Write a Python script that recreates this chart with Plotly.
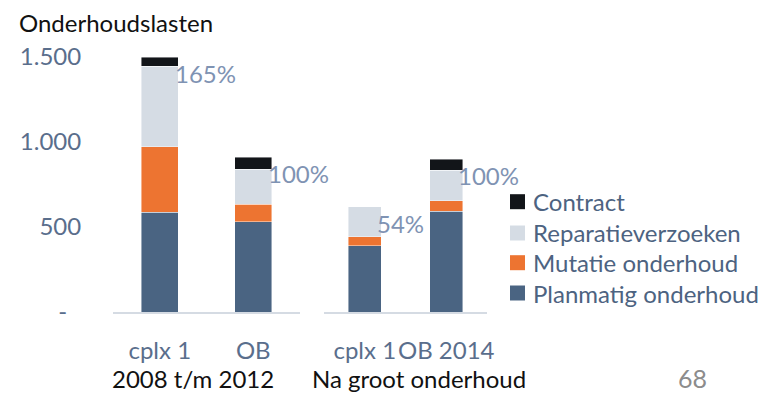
import plotly.graph_objects as go

# Maintenance costs per complex, stacked by cost type
periods = ["2008 t/m 2012", "Na groot onderhoud"]
categories_2008 = ["cplx 1", "OB"]
categories_2014 = ["cplx 1", "OB 2014"]

planmatig = [586, 531, 390, 594]
mutatie = [386, 102, 53, 61]
reparatie = [475, 208, 176, 180]
contract = [51, 69, 0, 65]

pct_labels = ["165%", "100%", "54%", "100%"]

series = [
    ("Planmatig onderhoud", planmatig, "#4A6482"),
    ("Mutatie onderhoud", mutatie, "#ED7431"),
    ("Reparatieverzoeken", reparatie, "#D5DCE4"),
    ("Contract", contract, "#121519"),
]

y_tickvals = [0, 500, 1000, 1500]
y_ticktext = ["-\u2007", "500", "1.000", "1.500"]

FONT = "Lato"
FS = 24
SLATE = "#5A6E8C"
PCT = "#7F93B3"
LEGEND_TEXT = "#4D6381"

W, H = 769, 393
ML, MR, MT, MB = 113, 282, 48, 81
PW, PH = W - ML - MR, H - MT - MB


def px(x):
    """Figure pixel x -> paper coordinate (plot-area relative)."""
    return (x - ML) / PW


def py(y):
    """Figure pixel y (from top) -> paper coordinate (plot-area relative)."""
    return (H - MB - y) / PH


fig = go.Figure()

groups = (("x", "y", categories_2008, slice(0, 2)), ("x2", "y", categories_2014, slice(2, 4)))
for name, vals, color in series:
    for xa, ya, cats, sl in groups:
        fig.add_trace(go.Bar(
            x=cats, y=vals[sl], name=name, xaxis=xa, yaxis=ya, showlegend=False,
            marker=dict(color=color, line=dict(color="rgba(255,255,255,0.55)", width=0.8)),
        ))

totals = [p + m + r + c for p, m, r, c in zip(planmatig, mutatie, reparatie, contract)]
for i, (label, tot) in enumerate(zip(pct_labels, totals)):
    first = i < 2
    cats = categories_2008 if first else categories_2014
    half = 19 if first else 16
    fig.add_annotation(
        x=cats[i % 2], y=tot, xref="x" if first else "x2", yref="y",
        text=label, showarrow=False, xanchor="left", yanchor="top",
        xshift=half - 6, font=dict(family=FONT, size=FS, color=PCT),
    )

# Legend: colour squares with labels, Contract on top
legend_y = [293, 262.7, 233, 201.7]
for (name, _, color), ly in zip(series, legend_y):
    fig.add_shape(type="rect", xref="paper", yref="paper",
                  x0=px(510), x1=px(525), y0=py(ly + 7.5), y1=py(ly - 7.5),
                  fillcolor=color, line=dict(width=0))
    fig.add_annotation(x=px(531), y=py(ly), xref="paper", yref="paper",
                       text=name, showarrow=False, xanchor="left", yanchor="middle",
                       font=dict(family=FONT, size=FS, color=LEGEND_TEXT))

# Period labels under each group
for label, cx in zip(periods, (193, 419)):
    fig.add_annotation(x=px(cx), y=py(378), xref="paper", yref="paper",
                       text=label, showarrow=False, xanchor="center", yanchor="middle",
                       font=dict(family=FONT, size=FS, color="#111111"))

# Chart title and page number
fig.add_annotation(x=px(17), y=py(23), xref="paper", yref="paper",
                   text="Onderhoudslasten", showarrow=False, xanchor="left", yanchor="middle",
                   font=dict(family=FONT, size=FS, color="#111111"))
fig.add_annotation(x=px(692), y=py(378), xref="paper", yref="paper",
                   text="68", showarrow=False, xanchor="center", yanchor="middle",
                   font=dict(family=FONT, size=25, color="#8C8C8C"))

axis_common = dict(showgrid=False, zeroline=False, showline=True, linecolor="#D5DBE3", linewidth=2,
                   ticks="outside", ticklen=16, tickcolor="rgba(0,0,0,0)", tickangle=0,
                   type="category", range=[-0.5, 1.5], fixedrange=True,
                   tickfont=dict(family=FONT, size=FS, color=SLATE))

fig.update_layout(
    width=W, height=H,
    margin=dict(l=ML, r=MR, t=MT, b=MB, autoexpand=False),
    barmode="stack", bargap=0.6,
    plot_bgcolor="white", paper_bgcolor="white",
    font=dict(family=FONT, size=FS, color=SLATE),
    showlegend=False,
    xaxis=dict(domain=[0, px(300)], anchor="y", **axis_common),
    xaxis2=dict(domain=[px(324), 1], anchor="y", **axis_common),
    yaxis=dict(range=[0, 1553], tickvals=y_tickvals, ticktext=y_ticktext,
               showgrid=False, zeroline=False, showline=False,
               ticks="outside", ticklen=26, tickcolor="rgba(0,0,0,0)",
               tickfont=dict(family=FONT, size=FS, color=SLATE)),
)

fig.write_html("out.html")
